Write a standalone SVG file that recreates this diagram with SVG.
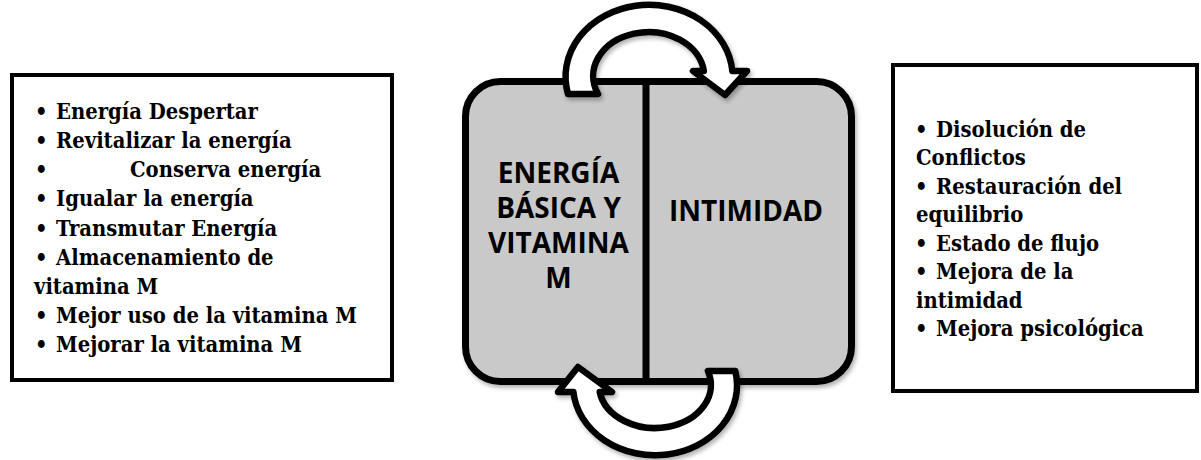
<svg xmlns="http://www.w3.org/2000/svg" width="1201" height="460" viewBox="0 0 1201 460">
  <defs>
    <filter id="shadow" x="-10%" y="-10%" width="120%" height="120%">
      <feDropShadow dx="2" dy="3" stdDeviation="2" flood-color="#000" flood-opacity="0.3"/>
    </filter>
  </defs>
  <style>
    .box { fill: #ffffff; stroke: #000000; stroke-width: 4; }
    .list { font-family: "DejaVu Serif Condensed", "DejaVu Serif", serif; font-stretch: condensed; font-weight: bold; font-size: 21.8px; fill: #000000; }
    .core { fill: #c9c9c9; stroke: #000000; stroke-width: 7; }
    .title { font-family: "Open Sans", "Liberation Sans", sans-serif; font-weight: bold; font-size: 28px; fill: #000000; text-anchor: middle; }
    .arrow { fill: #ffffff; stroke: #000000; stroke-width: 6.5; stroke-linejoin: round; }
  </style>
  <rect width="1201" height="460" fill="#ffffff"/>

  <g id="left-list">
    <rect class="box" x="12" y="75" width="380" height="305"/>
    <g class="list">
      <text x="35" y="119">•</text><text x="56" y="119">Energía Despertar</text>
      <text x="35" y="148.1">•</text><text x="56" y="148.1">Revitalizar la energía</text>
      <text x="35" y="177.3">•</text><text x="130" y="177.3">Conserva energía</text>
      <text x="35" y="206.4">•</text><text x="56" y="206.4">Igualar la energía</text>
      <text x="35" y="235.5">•</text><text x="56" y="235.5">Transmutar Energía</text>
      <text x="35" y="264.6">•</text><text x="56" y="264.6">Almacenamiento de</text>
      <text x="34" y="293.8">vitamina M</text>
      <text x="35" y="322.9">•</text><text x="56" y="322.9">Mejor uso de la vitamina M</text>
      <text x="35" y="352">•</text><text x="56" y="352">Mejorar la vitamina M</text>
    </g>
  </g>

  <g id="right-list">
    <rect class="box" x="893" y="65" width="304" height="326"/>
    <g class="list">
      <text x="915" y="136.5">•</text><text x="936" y="136.5">Disolución de</text>
      <text x="916" y="165">Conflictos</text>
      <text x="915" y="193.5">•</text><text x="936" y="193.5">Restauración del</text>
      <text x="916" y="222">equilibrio</text>
      <text x="915" y="250.5">•</text><text x="936" y="250.5">Estado de flujo</text>
      <text x="915" y="279">•</text><text x="936" y="279">Mejora de la</text>
      <text x="916" y="307.5">intimidad</text>
      <text x="915" y="336">•</text><text x="936" y="336">Mejora psicológica</text>
    </g>
  </g>

  <g id="core" filter="url(#shadow)">
    <rect class="core" x="465.5" y="81.5" width="386" height="300" rx="35" ry="35"/>
    <line x1="646" y1="81.5" x2="646" y2="381.5" stroke="#000000" stroke-width="7"/>
  </g>

  <g id="energia-node">
    <text class="title" x="558.5" y="182.7">ENERGÍA</text>
    <text class="title" x="558.5" y="217.5">BÁSICA Y</text>
    <text class="title" x="558.5" y="252.5">VITAMINA</text>
    <text class="title" x="558.5" y="287.5">M</text>
  </g>

  <g id="intimidad-node">
    <text class="title" x="746" y="220.7">INTIMIDAD</text>
  </g>

  <g id="connectors" filter="url(#shadow)">
    <path class="arrow" d="M 568,94 A 83.5 72 0 1 1 732.3,71 L 747,71 L 725,95 L 693,71 L 703.8,71 A 55.5 44 0 1 0 598,94 Z"/>
    <path class="arrow" d="M 735.3,371 A 82 70 0 1 1 573.4,392 L 558,392 L 578,367 L 612,392 L 599.7,392 A 56 43 0 1 0 707.9,371 Z"/>
  </g>
</svg>
